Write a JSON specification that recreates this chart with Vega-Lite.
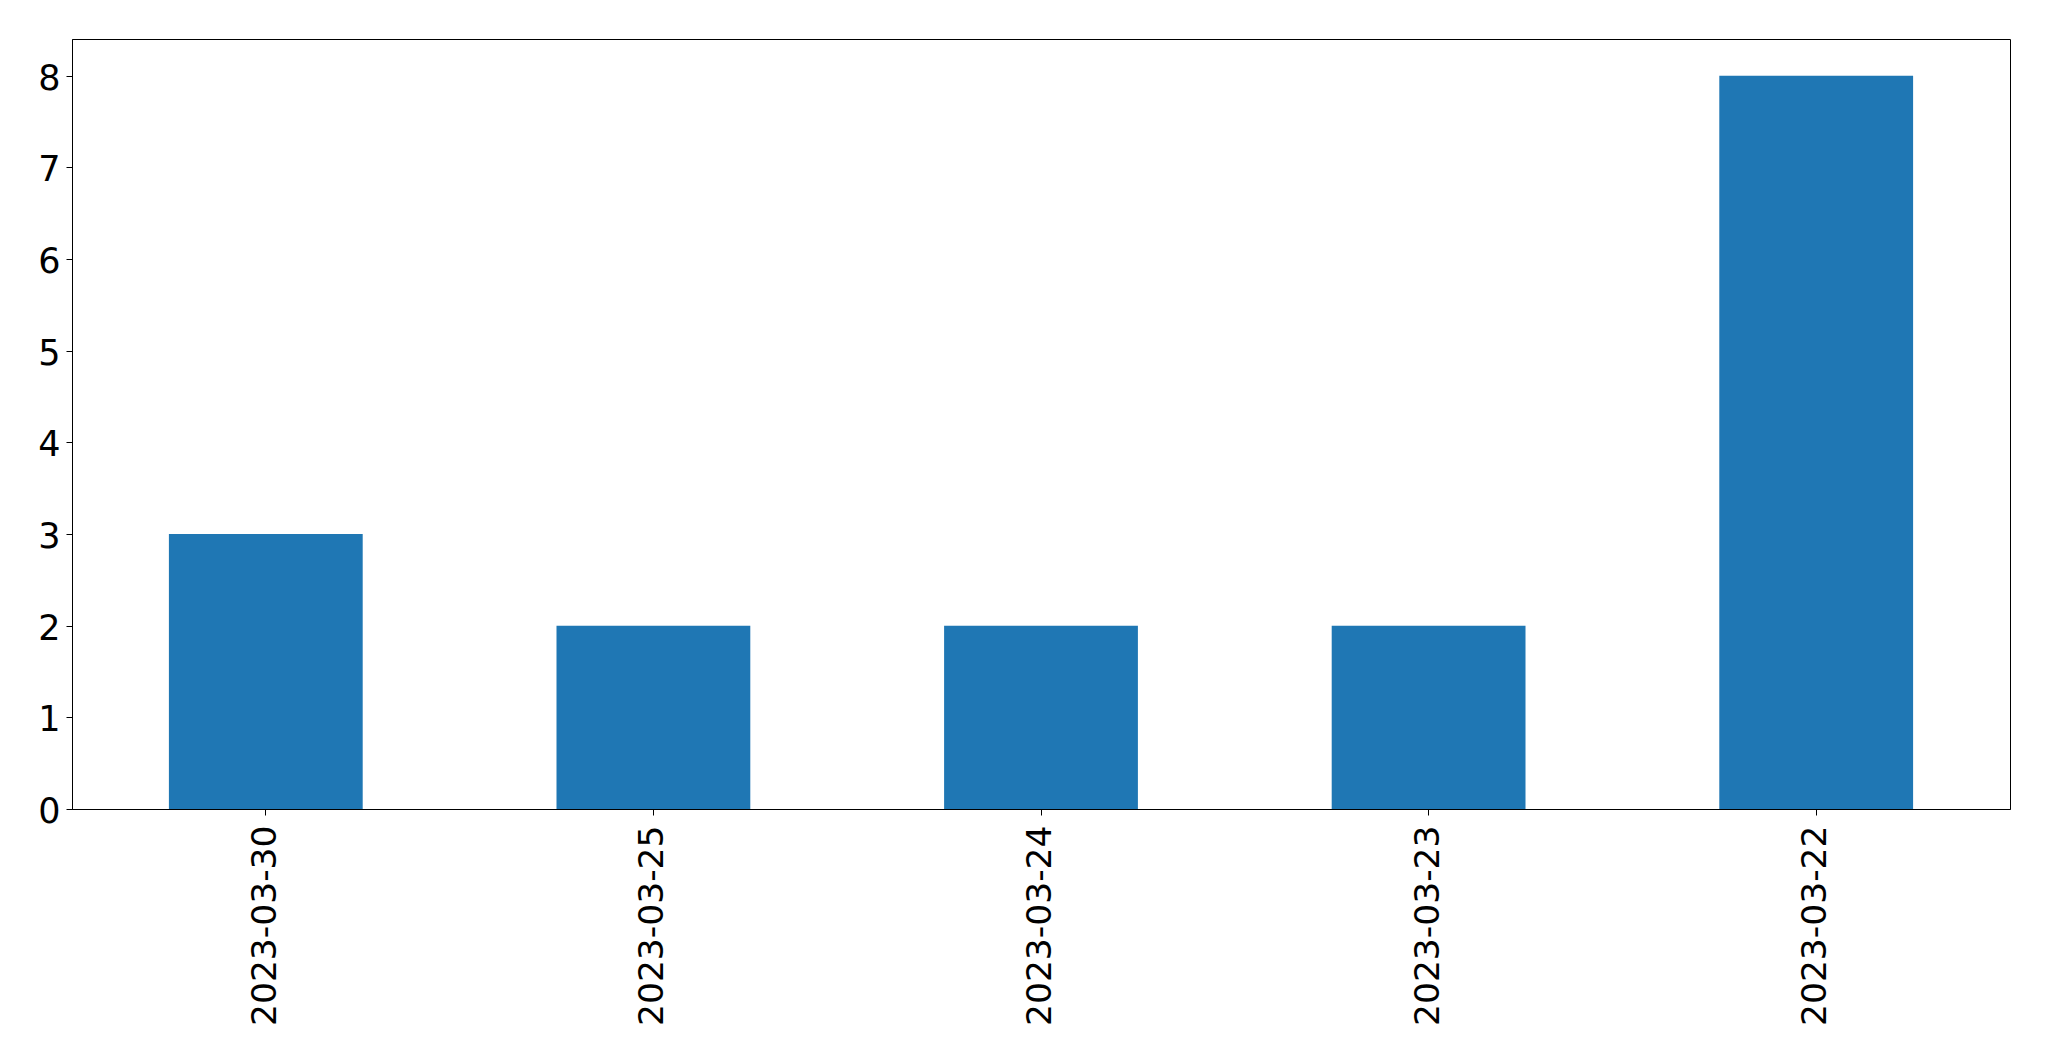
{
  "$schema": "https://vega.github.io/schema/vega-lite/v6.json",
  "autosize": "none",
  "width": 1938,
  "height": 770,
  "padding": {"left": 72, "top": 39, "right": 39, "bottom": 252},
  "background": "white",
  "data": {
    "values": [
      {"date": "2023-03-30", "count": 3},
      {"date": "2023-03-25", "count": 2},
      {"date": "2023-03-24", "count": 2},
      {"date": "2023-03-23", "count": 2},
      {"date": "2023-03-22", "count": 8}
    ]
  },
  "mark": {"type": "bar", "color": "#1f77b4"},
  "encoding": {
    "x": {
      "field": "date",
      "type": "nominal",
      "sort": null,
      "scale": {"paddingInner": 0.5, "paddingOuter": 0.25},
      "axis": {
        "title": null,
        "labelAngle": -90,
        "labelFont": "DejaVu Sans",
        "labelFontSize": 34.5,
        "labelLimit": 0,
        "labelColor": "black",
        "labelPadding": 10,
        "tickColor": "black",
        "tickSize": 6,
        "domainColor": "black",
        "grid": false
      }
    },
    "y": {
      "field": "count",
      "type": "quantitative",
      "scale": {"domain": [0, 8.4], "nice": false},
      "axis": {
        "title": null,
        "values": [0, 1, 2, 3, 4, 5, 6, 7, 8],
        "labelFont": "DejaVu Sans",
        "labelFontSize": 35,
        "labelColor": "black",
        "labelPadding": 6,
        "labelOffset": 2.5,
        "tickColor": "black",
        "tickSize": 6,
        "domainColor": "black",
        "grid": false
      }
    }
  },
  "config": {
    "view": {"stroke": "black", "strokeWidth": 1}
  }
}
